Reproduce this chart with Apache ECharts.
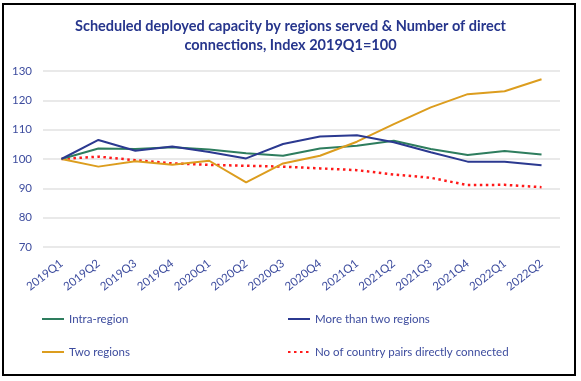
<!DOCTYPE html>
<html>
<head>
<meta charset="utf-8">
<script src="https://cdn.jsdelivr.net/npm/echarts@6/dist/echarts.min.js"></script>
<style>html,body{margin:0;padding:0;background:#fff}#c{width:581px;height:381px}</style>
</head>
<body>
<div id="c"></div>
<script>
const categories = ['2019Q1','2019Q2','2019Q3','2019Q4','2020Q1','2020Q2','2020Q3','2020Q4','2021Q1','2021Q2','2021Q3','2021Q4','2022Q1','2022Q2'];
const intraRegion = [100, 103.6, 103.4, 104.0, 103.2, 102.0, 101.1, 103.6, 104.5, 106.2, 103.4, 101.4, 102.7, 101.5];
const moreThanTwo = [100, 106.5, 102.8, 104.3, 102.4, 100.2, 105.1, 107.7, 108.1, 105.7, 102.3, 99.1, 99.1, 97.9];
const twoRegions = [100, 97.4, 99.2, 98.0, 99.4, 92.0, 98.5, 101.1, 105.9, 111.9, 117.6, 122.1, 123.1, 127.2];
const countryPairs = [100, 100.8, 99.6, 98.5, 98.0, 97.7, 97.4, 96.8, 96.2, 94.7, 93.6, 91.1, 91.2, 90.4];
const yTicks = [70, 80, 90, 100, 110, 120, 130];
const titleLines = ['Scheduled deployed capacity by regions served & Number of direct', 'connections, Index 2019Q1=100'];

const FONT = 'Lato';
const textBlue = '#3d4c9e';
const chart = echarts.init(document.getElementById('c'), null, {renderer: 'canvas'});
chart.setOption({
  animation: false,
  backgroundColor: '#fff',
  textStyle: {fontFamily: FONT},
  title: {
    text: titleLines.join('\n'),
    left: 'center', top: 12,
    textStyle: {fontFamily: FONT, fontSize: 14.5, fontWeight: 'bold', color: '#26358c', lineHeight: 19}
  },
  graphic: [{
    type: 'rect', shape: {x: 3, y: 4, width: 572, height: 371},
    style: {fill: 'none', stroke: '#000', lineWidth: 2}, silent: true
  }],
  legend: [{
    orient: 'vertical', left: 36, top: 308, itemWidth: 22, itemHeight: 14, itemGap: 21,
    itemStyle: {opacity: 0},
    textStyle: {fontFamily: FONT, fontSize: 11.5, color: textBlue},
    data: ['Intra-region', 'Two regions']
  }, {
    orient: 'vertical', left: 282, top: 308, itemWidth: 22, itemHeight: 14, itemGap: 21,
    itemStyle: {opacity: 0},
    textStyle: {fontFamily: FONT, fontSize: 11.5, color: textBlue},
    data: ['More than two regions', 'No of country pairs directly connected']
  }],
  grid: {left: 43, right: 21, top: 71, bottom: 134, containLabel: false},
  xAxis: {
    type: 'category', data: categories, boundaryGap: true,
    axisLine: {show: false}, axisTick: {show: false},
    axisLabel: {rotate: 38, color: textBlue, fontSize: 11.5, fontFamily: FONT, margin: 15}
  },
  yAxis: {
    type: 'value', min: yTicks[0], max: yTicks[yTicks.length - 1], interval: 10,
    axisLine: {show: false}, axisTick: {show: false},
    axisLabel: {color: textBlue, fontSize: 11.5, fontFamily: FONT, margin: 11},
    splitLine: {lineStyle: {color: '#e2e2e2', width: 1.5}}
  },
  series: [
    {name: 'Intra-region', type: 'line', data: intraRegion, symbol: 'none', z: 3,
     lineStyle: {color: '#2e7d5e', width: 2}, itemStyle: {color: '#2e7d5e'}},
    {name: 'More than two regions', type: 'line', data: moreThanTwo, symbol: 'none', z: 4,
     lineStyle: {color: '#2b3990', width: 2}, itemStyle: {color: '#2b3990'}},
    {name: 'Two regions', type: 'line', data: twoRegions, symbol: 'none', z: 3,
     lineStyle: {color: '#dc9d1e', width: 2}, itemStyle: {color: '#dc9d1e'}},
    {name: 'No of country pairs directly connected', type: 'line', data: countryPairs, symbol: 'none', z: 2,
     lineStyle: {color: '#ff1a1a', width: 2.5, type: [2.5, 3.5]}, itemStyle: {color: '#ff1a1a'}}
  ]
});
</script>
</body>
</html>
